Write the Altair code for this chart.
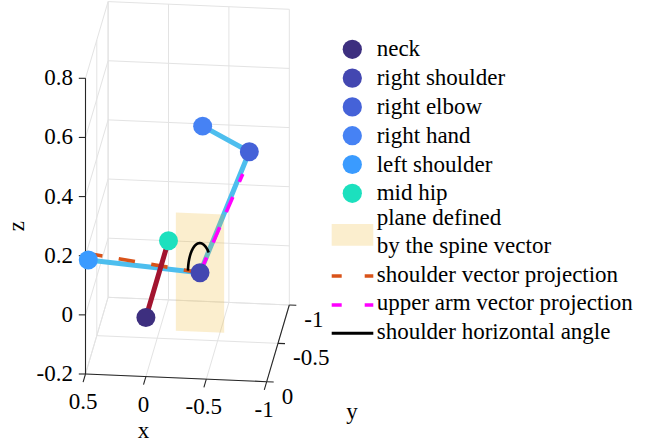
import numpy as np
import pandas as pd
import altair as alt

W, H = 668, 445
FONT = "Times New Roman, Liberation Serif, serif"

# ---- joint data (body frame: neck at origin, spine of unit length along -y) ----
joints = ["neck", "right shoulder", "right elbow", "right hand", "left shoulder", "mid hip"]
joint_x = [0.0, -0.433, -0.787, -0.395, 0.477, 0.0]
joint_y = [0.0, -0.08, -0.37, -0.40, 0.0, -1.0]
joint_z = [0.0, 0.138, 0.478, 0.550, 0.186, 0.0]
joint_colors = ["#3d2f7f", "#4347b1", "#4562d8", "#4682f4", "#3a9bff", "#1ce0be"]

# half size of the plane patch drawn around the right shoulder
plane_half = 0.2
# radius of the horizontal-angle arc
arc_radius = 0.1

# ---- axes ----
x_ticks = [0.5, 0.0, -0.5, -1.0]
x_tick_labels = ["0.5", "0", "-0.5", "-1"]
y_ticks = [-1.0, -0.5, 0.0]
y_tick_labels = ["-1", "-0.5", "0"]
z_ticks = [-0.2, 0.0, 0.2, 0.4, 0.6, 0.8]
z_tick_labels = ["-0.2", "0", "0.2", "0.4", "0.6", "0.8"]
XLIM = (-1.0, 0.5)
YLIM = (-1.0, 0.0)
ZLIM = (-0.2, 0.8)

# orthographic camera: pixel position of the front-left-bottom box corner and
# pixel displacement for one data unit along x, y and z
CORNER = np.array([XLIM[1], YLIM[1], ZLIM[0]])
ORIGIN_PX = np.array([85.5, 374.0])
BASIS = np.array([[-120.8, -5.13],
                  [-22.6, 76.7],
                  [0.0, -295.7]])


def project(p):
    p = np.asarray(p, dtype=float) - CORNER
    s = ORIGIN_PX + p @ BASIS
    return float(s[0]), float(s[1])


def seg_frame(pairs):
    rows = []
    for a, b in pairs:
        x0, y0 = project(a)
        x1, y1 = project(b)
        rows.append(dict(sx=x0, sy=y0, sx2=x1, sy2=y1))
    return pd.DataFrame(rows)


xs = alt.Scale(domain=[0, W], nice=False, zero=False)
ys = alt.Scale(domain=[0, H], nice=False, zero=False, reverse=True)
X = alt.X("sx:Q", scale=xs, axis=None)
Y = alt.Y("sy:Q", scale=ys, axis=None)
X2 = alt.X2("sx2:Q")
Y2 = alt.Y2("sy2:Q")


def rules(df, color, width, dash=None, cap="butt", opacity=1.0):
    kw = dict(color=color, strokeWidth=width, strokeCap=cap, opacity=opacity)
    if dash is not None:
        kw["strokeDash"] = dash
    return alt.Chart(df).mark_rule(**kw).encode(x=X, y=Y, x2=X2, y2=Y2)


def texts(df, size, align, angle=0, color="#000000"):
    kw = dict(font=FONT, fontSize=size, align=align, baseline="middle", color=color)
    if angle:
        kw["angle"] = angle
    return alt.Chart(df).mark_text(**kw).encode(x=X, y=Y, text="label:N")


P = {n: np.array([x, y, z]) for n, x, y, z in zip(joints, joint_x, joint_y, joint_z)}

# ---- grid on the three back planes ----
x0, x1 = XLIM[1], XLIM[0]
y0, y1 = YLIM[1], YLIM[0]
z0, z1 = ZLIM
grid_pairs = []
for xv in x_ticks:
    grid_pairs.append(((xv, y0, z0), (xv, y1, z0)))      # floor
    grid_pairs.append(((xv, y1, z0), (xv, y1, z1)))      # back wall
for yv in y_ticks:
    grid_pairs.append(((x0, yv, z0), (x1, yv, z0)))      # floor
    grid_pairs.append(((x0, yv, z0), (x0, yv, z1)))      # side wall
for zv in z_ticks:
    grid_pairs.append(((x0, y1, zv), (x1, y1, zv)))      # back wall
    grid_pairs.append(((x0, y0, zv), (x0, y1, zv)))      # side wall
grid = rules(seg_frame(grid_pairs), "#e3e3e3", 1)

# ---- axis lines, ticks and labels ----
axis_pairs = [((x0, y0, z0), (x1, y0, z0)),
              ((x1, y0, z0), (x1, y1, z0)),
              ((x0, y0, z0), (x0, y0, z1))]
axis_lines = rules(seg_frame(axis_pairs), "#262626", 1.1)


def unit(v):
    v = np.asarray(v, dtype=float)
    return v / np.linalg.norm(v)


TICK_FONT = 23
tick_rows = []
label_rows_x, label_rows_y, label_rows_z = [], [], []
dx_tick = unit(BASIS[1]) * 8.5
dy_tick = unit(-BASIS[0]) * 7.0
dz_tick = np.array([-6.7, 0.0])
for v, lab in zip(x_ticks, x_tick_labels):
    sx, sy = project((v, y0, z0))
    tick_rows.append(dict(sx=sx, sy=sy, sx2=sx + dx_tick[0], sy2=sy + dx_tick[1]))
    label_rows_x.append(dict(sx=sx - 2.5, sy=sy + 28.0, label=lab))
for v, lab in zip(y_ticks, y_tick_labels):
    sx, sy = project((x1, v, z0))
    tick_rows.append(dict(sx=sx, sy=sy, sx2=sx + dy_tick[0], sy2=sy + dy_tick[1]))
    label_rows_y.append(dict(sx=sx + 15.0, sy=sy + 15.0, label=lab))
for v, lab in zip(z_ticks, z_tick_labels):
    sx, sy = project((x0, y0, v))
    tick_rows.append(dict(sx=sx, sy=sy, sx2=sx + dz_tick[0], sy2=sy + dz_tick[1]))
    label_rows_z.append(dict(sx=sx - 12.5, sy=sy, label=lab))
ticks = rules(pd.DataFrame(tick_rows), "#262626", 1.1)
xlab = texts(pd.DataFrame(label_rows_x), TICK_FONT, "center")
ylab = texts(pd.DataFrame(label_rows_y), TICK_FONT, "left")
zlab = texts(pd.DataFrame(label_rows_z), TICK_FONT, "right")

tx, ty = project((0.0, y0, z0))
x_title = texts(pd.DataFrame([dict(sx=tx - 2.5, sy=ty + 54.0, label="x")]), TICK_FONT, "center")
tx, ty = project((x1, -0.5, z0))
y_title = texts(pd.DataFrame([dict(sx=tx + 74.0, sy=ty + 69.0, label="y")]), TICK_FONT, "center")
tx, ty = project((x0, y0, 0.3))
z_title = texts(pd.DataFrame([dict(sx=tx - 68.5, sy=ty, label="z")]), TICK_FONT, "center", angle=270)

# ---- skeleton ----
rs = P["right shoulder"]
limb_back = rules(seg_frame([(rs, P["right elbow"]),
                             (P["right elbow"], P["right hand"])]), "#4dbeee", 5, cap="round")
limb_front = rules(seg_frame([(P["left shoulder"], rs)]), "#4dbeee", 5, cap="round")
spine = rules(seg_frame([(P["neck"], P["mid hip"])]), "#a2142f", 5, cap="round")

# plane through the right shoulder, normal to the spine (y axis)
plane_rows = []
for xv in (rs[0] + plane_half, rs[0] - plane_half):
    sx, st = project((xv, rs[1], rs[2] + plane_half))
    _, sb = project((xv, rs[1], rs[2] - plane_half))
    plane_rows.append(dict(sx=sx, sy=st, sy2=sb))
plane = alt.Chart(pd.DataFrame(plane_rows)).mark_area(
    color="#edb120", opacity=0.22).encode(x=X, y=Y, y2=Y2)

# projections of the shoulder vector and the upper arm onto that plane
ls_proj = np.array([P["left shoulder"][0], rs[1], P["left shoulder"][2]])
el_proj = np.array([P["right elbow"][0], rs[1], P["right elbow"][2]])
shoulder_proj = rules(seg_frame([(rs, ls_proj)]), "#d95319", 3.6, dash=[16.5, 16.5])
arm_proj = rules(seg_frame([(rs, el_proj)]), "#ff00ff", 3.6, dash=[16.5, 16.5])

# horizontal angle arc between the two projections
a0 = np.arctan2(ls_proj[2] - rs[2], ls_proj[0] - rs[0])
a1 = np.arctan2(el_proj[2] - rs[2], el_proj[0] - rs[0])
arc_rows = []
for i, a in enumerate(np.linspace(a0, a1, 60)):
    sx, sy = project((rs[0] + arc_radius * np.cos(a), rs[1], rs[2] + arc_radius * np.sin(a)))
    arc_rows.append(dict(sx=sx, sy=sy, idx=i))
arc = alt.Chart(pd.DataFrame(arc_rows)).mark_line(
    color="#000000", strokeWidth=2.6).encode(x=X, y=Y, order="idx:Q")

# joints
joint_rows = []
for n, c in zip(joints, joint_colors):
    sx, sy = project(P[n])
    joint_rows.append(dict(sx=sx, sy=sy, joint=n, col=c))
joint_df = pd.DataFrame(joint_rows)
markers = alt.Chart(joint_df).mark_circle(size=360, opacity=1).encode(
    x=X, y=Y, color=alt.Color("col:N", scale=None))

# ---- legend ----
LEG_SYM_X, LEG_TXT_X = 352.3, 376.7
LEG_Y0, LEG_STEP = 49.3, 28.8
LEG_SIZE = 23
leg_sym = pd.DataFrame([dict(sx=LEG_SYM_X, sy=LEG_Y0 + i * LEG_STEP, col=c)
                        for i, c in enumerate(joint_colors)])
leg_markers = alt.Chart(leg_sym).mark_circle(size=370, opacity=1).encode(
    x=X, y=Y, color=alt.Color("col:N", scale=None))

other_labels = ["plane defined", "by the spine vector", "shoulder vector projection",
                "upper arm vector projection", "shoulder horizontal angle"]
other_label_y = [217.5, 245.5, 274.5, 303.3, 331.7]
leg_text_rows = [dict(sx=LEG_TXT_X, sy=LEG_Y0 + i * LEG_STEP, label=n) for i, n in enumerate(joints)]
leg_text_rows += [dict(sx=LEG_TXT_X, sy=yv, label=t) for t, yv in zip(other_labels, other_label_y)]
leg_text = texts(pd.DataFrame(leg_text_rows), LEG_SIZE, "left")

SW_X0, SW_X1 = 331.7, 373.3
leg_plane = alt.Chart(pd.DataFrame([dict(sx=SW_X0, sx2=SW_X1, sy=224.0, sy2=245.7)])).mark_rect(
    color="#edb120", opacity=0.22).encode(x=X, x2=X2, y=Y, y2=Y2)
leg_orange = rules(pd.DataFrame([dict(sx=SW_X0, sy=276.0, sx2=SW_X1, sy2=276.0)]),
                   "#d95319", 3.6, dash=[10, 23])
leg_magenta = rules(pd.DataFrame([dict(sx=SW_X0, sy=305.0, sx2=SW_X1, sy2=305.0)]),
                    "#ff00ff", 3.6, dash=[10, 23])
leg_black = rules(pd.DataFrame([dict(sx=SW_X0, sy=333.3, sx2=SW_X1, sy2=333.3)]),
                  "#000000", 3)

chart = alt.layer(
    grid, axis_lines, ticks, xlab, ylab, zlab, x_title, y_title, z_title,
    limb_back, plane, limb_front, shoulder_proj, spine, arm_proj, arc, markers,
    leg_markers, leg_text, leg_plane, leg_orange, leg_magenta, leg_black,
).properties(
    width=W, height=H, padding=0, autosize=alt.AutoSizeParams(type="none"),
    background="#ffffff",
).configure_view(stroke=None).configure_text(font=FONT)

chart.save("out.html", embed_options={"renderer": "svg", "actions": False})
